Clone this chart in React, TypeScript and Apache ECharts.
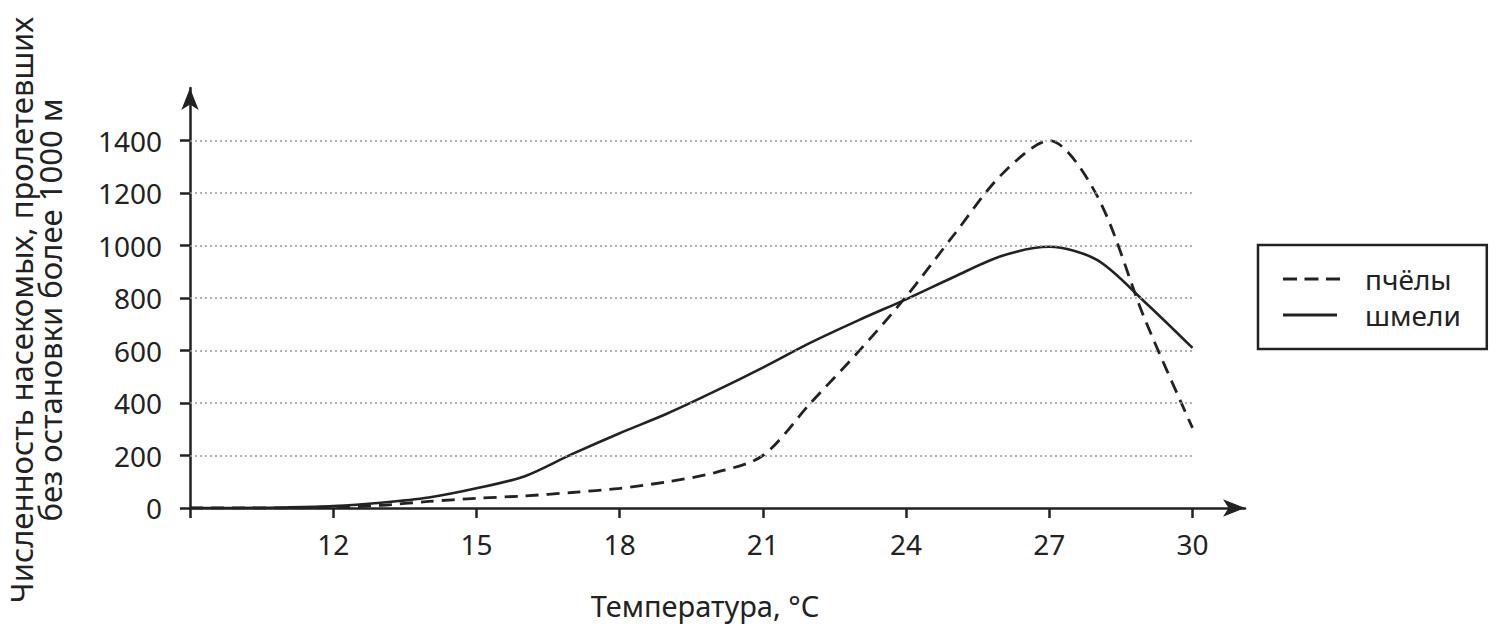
import React, { useEffect, useRef } from "react";
import * as echarts from "echarts";

const temps = [9, 10, 11, 12, 13, 14, 15, 16, 17, 18, 19, 20, 21, 22, 23, 24, 25, 26, 27, 28, 29, 30];
const bumblebees = [0, 0, 2, 7, 20, 40, 75, 120, 205, 285, 360, 445, 535, 630, 715, 795, 880, 960, 995, 945, 785, 610];
const bees = [0, 0, 0, 2, 10, 25, 37, 46, 59, 75, 100, 135, 200, 400, 595, 805, 1040, 1270, 1400, 1190, 720, 305];
const xTicks = [9, 12, 15, 18, 21, 24, 27, 30];
const xLabels = [12, 15, 18, 21, 24, 27, 30];
const yTicks = [0, 200, 400, 600, 800, 1000, 1200, 1400];
const gridValues = [200, 400, 600, 800, 1000, 1200, 1400];

const FONT = "Noto Sans";
const INK = "#222";
const DASH_ICON = "path://M0,0H14V2.8H0Z M21.5,0H35.5V2.8H21.5Z M43,0H57V2.8H43Z";
const SOLID_ICON = "path://M0,0H54V2.8H0Z M57,0H57V2.8H57Z";

export default function App() {
  const ref = useRef<HTMLDivElement>(null);
  useEffect(() => {
    if (!ref.current) return;
    const chart = echarts.init(ref.current, null, { renderer: "svg" });
    const pair = (a: number[], b: number[]) => a.map((t, i) => [t, b[i]]);
    chart.setOption({
      animation: false,
      backgroundColor: "#fff",
      grid: { left: 190, right: 255, top: 88, bottom: 119 },
      xAxis: {
        type: "value",
        min: 9,
        max: 31.1,
        interval: 3,
        splitLine: { show: false },
        axisLine: {
          show: true,
          lineStyle: { color: INK, width: 2.5 },
          symbol: ["none", "arrow"],
          symbolSize: [13, 22],
        },
        axisTick: { show: true, length: 10, lineStyle: { color: INK, width: 2.5 }, customValues: xTicks },
        axisLabel: { customValues: xLabels, margin: 22, fontSize: 28, fontFamily: FONT, color: INK },
      },
      yAxis: {
        type: "value",
        min: 0,
        max: 1600,
        interval: 200,
        splitLine: { show: false },
        axisLine: {
          show: true,
          lineStyle: { color: INK, width: 2.5 },
          symbol: ["none", "arrow"],
          symbolSize: [13, 22],
        },
        axisTick: { show: true, length: 10, lineStyle: { color: INK, width: 2.5 }, customValues: yTicks },
        axisLabel: {
          customValues: yTicks,
          margin: 28,
          fontSize: 28,
          fontFamily: FONT,
          color: INK,
          formatter: (v: number) => String(v),
        },
      },
      legend: {
        left: 1258,
        top: 245,
        orient: "vertical",
        borderColor: INK,
        borderWidth: 2.5,
        borderRadius: 0,
        padding: [20, 26, 20, 25],
        itemGap: 8,
        itemWidth: 57,
        itemHeight: 20,
        symbolKeepAspect: true,
        textStyle: { fontSize: 28, fontFamily: FONT, color: INK, padding: [0, 0, 0, 20] },
        data: [
          { name: "пчёлы", icon: DASH_ICON, itemStyle: { color: INK, borderWidth: 0 } },
          { name: "шмели", icon: SOLID_ICON, itemStyle: { color: INK, borderWidth: 0 } },
        ],
      },
      series: [
        {
          name: "пчёлы",
          type: "line",
          data: pair(temps, bees),
          smooth: 0.3,
          symbol: "none",
          lineStyle: { color: INK, width: 2.8, type: [13, 8] },
          itemStyle: { color: INK },
          z: 3,
        },
        {
          name: "шмели",
          type: "line",
          data: pair(temps, bumblebees),
          smooth: 0.3,
          symbol: "none",
          lineStyle: { color: INK, width: 2.6, type: "solid" },
          itemStyle: { color: INK },
          z: 3,
        },
        {
          name: "grid",
          type: "line",
          data: [],
          silent: true,
          z: 1,
          markLine: {
            silent: true,
            symbol: "none",
            label: { show: false },
            lineStyle: { color: "#999", width: 1.5, type: [2, 3] },
            data: gridValues.map((v) => [{ coord: [9, v] }, { coord: [30, v] }]),
          },
        },
      ],
      graphic: [
        {
          type: "text",
          x: 35,
          y: 310,
          rotation: Math.PI / 2,
          style: {
            text: "Численность насекомых, пролетевших\nбез остановки более 1000 м",
            fontSize: 31,
            fontFamily: FONT,
            fill: INK,
            align: "center",
            verticalAlign: "middle",
            lineHeight: 29,
          },
        },
        {
          type: "text",
          x: 705,
          y: 605,
          style: {
            text: "Температура, °С",
            fontSize: 29,
            fontFamily: FONT,
            fill: INK,
            align: "center",
            verticalAlign: "middle",
          },
        },
      ],
    });
    return () => chart.dispose();
  }, []);
  return <div ref={ref} style={{ position: "fixed", left: 0, top: 0, width: 1500, height: 627 }} />;
}
